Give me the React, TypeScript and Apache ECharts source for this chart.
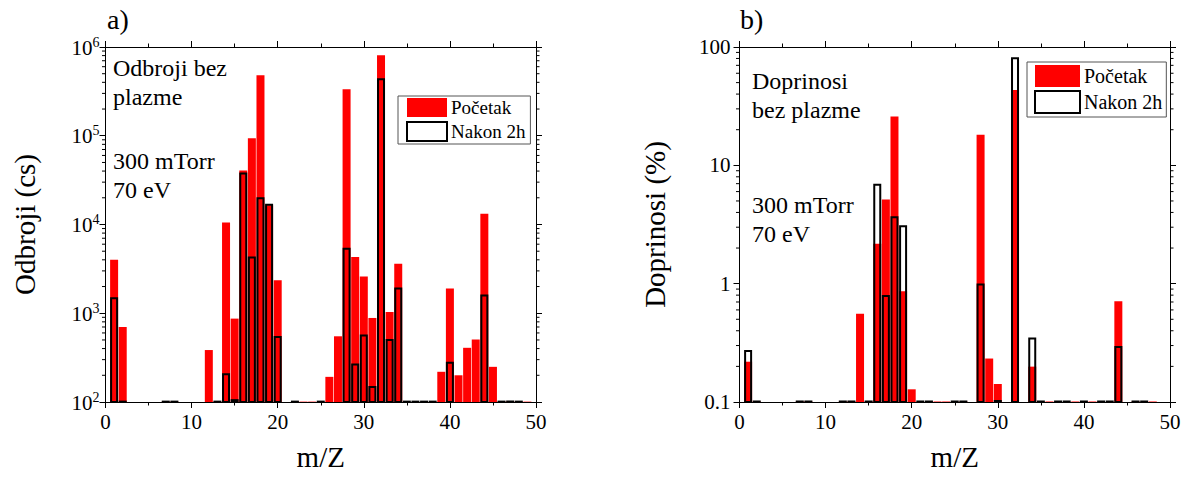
import React, { useEffect, useRef } from "react";
import * as echarts from "echarts";

// ---- data: [m/Z, value] ----
const countsPocetak: [number, number][] = [
  [1, 4000], [2, 700], [7, 101], [8, 101], [12, 385], [13, 101], [14, 10500], [15, 870],
  [16, 40500], [17, 94000], [18, 480000], [19, 16500], [20, 2350], [22, 101], [23, 101],
  [24, 101], [26, 192], [27, 550], [28, 335000], [29, 4300], [30, 2600], [31, 885],
  [32, 806000], [33, 1030], [34, 3620], [39, 219], [40, 1900], [41, 200], [42, 408],
  [43, 506], [44, 13200], [45, 249], [46, 101], [47, 101], [48, 101], [49, 101],
];
const countsNakon: [number, number][] = [
  [1, 1480], [2, 101], [7, 101], [8, 101], [13, 101], [14, 205], [15, 105], [16, 37500],
  [17, 4240], [18, 19800], [19, 16700], [20, 540], [22, 101], [25, 101], [28, 5340],
  [29, 265], [30, 560], [31, 148], [32, 434000], [33, 498], [34, 1900], [35, 101],
  [36, 101], [37, 101], [38, 101], [40, 276], [44, 1590], [46, 101], [47, 101], [48, 101],
];
const shareFirst: [number, number][] = [
  [1, 0.219], [2, 0.101], [7, 0.101], [8, 0.101], [12, 0.101], [13, 0.101], [14, 0.558],
  [15, 0.101], [16, 2.17], [17, 5.14], [18, 25.9], [19, 0.861], [20, 0.128], [22, 0.101],
  [23, 0.101], [24, 0.101], [26, 0.101], [28, 18.1], [29, 0.233], [30, 0.142], [32, 43.4],
  [34, 0.199], [36, 0.101], [39, 0.101], [41, 0.101], [44, 0.71], [46, 0.101], [48, 0.101],
];
const shareAfter: [number, number][] = [
  [1, 0.27], [2, 0.101], [7, 0.101], [8, 0.101], [12, 0.101], [13, 0.101], [15, 0.101],
  [16, 6.87], [17, 0.787], [18, 3.64], [19, 3.06], [21, 0.101], [22, 0.101], [25, 0.101],
  [26, 0.101], [28, 0.986], [30, 0.102], [32, 80.3], [34, 0.344], [35, 0.101], [37, 0.101],
  [38, 0.101], [40, 0.101], [42, 0.101], [43, 0.101], [44, 0.292], [46, 0.101], [47, 0.101],
];
const seriesNames = ["Početak", "Nakon 2h"];
const xTicks = [0, 10, 20, 30, 40, 50];
const leftExponents = [2, 3, 4, 5, 6];
const rightDecades = [0.1, 1, 10, 100];
const minorMultipliers = [2, 3, 4, 5, 6, 7, 8, 9];

const FONT = '"Liberation Serif", "Times New Roman", serif';
const RED = "#ff0000";

function minorValues(decades: number[]) {
  const out: [number, number][] = [];
  for (let i = 0; i < decades.length - 1; i++) {
    for (const k of minorMultipliers) out.push([0, decades[i] * k]);
  }
  return out;
}

export default function App() {
  const ref = useRef<HTMLDivElement>(null);
  useEffect(() => {
    document.body.style.margin = "0";
    const chart = echarts.init(ref.current!, undefined, { renderer: "svg" });
    const G = [
      { left: 105.5, top: 47, width: 430.5, height: 355 },
      { left: 739.5, top: 47, width: 430.5, height: 355 },
    ];
    const axisLine = { show: true, onZero: false, lineStyle: { color: "#000", width: 1 } };
    const xAxisFor = (gi: number, pos: "bottom" | "top") => ({
      type: "value",
      gridIndex: gi,
      position: pos,
      min: xTicks[0],
      max: xTicks[xTicks.length - 1],
      interval: 10,
      axisLine,
      axisTick: { show: true, inside: false, length: 6, lineStyle: { color: "#000" } },
      minorTick: { show: true, splitNumber: 2, length: 3.5, lineStyle: { color: "#000" } },
      axisLabel: {
        show: pos === "bottom",
        color: "#000",
        fontFamily: FONT,
        fontSize: 21,
        margin: 9,
      },
      splitLine: { show: false },
      name: pos === "bottom" ? "m/Z" : "",
      nameLocation: "middle",
      nameGap: 40,
      nameTextStyle: { color: "#000", fontFamily: FONT, fontSize: 29 },
    });
    const leftMin = Math.pow(10, leftExponents[0]);
    const leftMax = Math.pow(10, leftExponents[leftExponents.length - 1]);
    const yAxisFor = (gi: number, pos: "left" | "right") => {
      const isLeftChart = gi === 0;
      return {
        type: "log",
        logBase: 10,
        gridIndex: gi,
        position: pos,
        min: isLeftChart ? leftMin : rightDecades[0],
        max: isLeftChart ? leftMax : rightDecades[rightDecades.length - 1],
        axisLine,
        axisTick: { show: true, inside: false, length: 6, lineStyle: { color: "#000" } },
        splitLine: { show: false },
        axisLabel: {
          show: pos === "left",
          color: "#000",
          fontFamily: FONT,
          fontSize: 21,
          margin: isLeftChart ? 6 : 9,
          formatter: isLeftChart
            ? (v: number) => `{b|10}{s|${Math.round(Math.log10(v))}}`
            : (v: number) => (v >= 1 ? String(Math.round(v)) : String(+v.toPrecision(1))),
          rich: isLeftChart
            ? {
                b: { fontFamily: FONT, fontSize: 21, color: "#000", verticalAlign: "bottom", lineHeight: 22 },
                s: { fontFamily: FONT, fontSize: 14, color: "#000", verticalAlign: "bottom", padding: [0, 0, 9, 0], lineHeight: 14 },
              }
            : undefined,
        },
        name: pos === "left" ? (isLeftChart ? "Odbroji (cs)" : "Doprinosi (%)") : "",
        nameLocation: "middle",
        nameGap: isLeftChart ? 66 : 70,
        nameTextStyle: { color: "#000", fontFamily: FONT, fontSize: 29 },
      };
    };

    const redStyle = { color: RED };
    const blackStyle = { color: "rgba(0,0,0,0)", borderColor: "#000", borderWidth: 2 };

    // Bars drawn through the axes: the bar rises from the bottom of the axis range.
    const logBars = (
      name: string,
      xi: number,
      yi: number,
      data: [number, number][],
      width: number,
      itemStyle: any,
      z: number
    ) => ({
      name,
      type: "custom",
      xAxisIndex: xi,
      yAxisIndex: yi,
      clip: true,
      data,
      encode: { x: 0, y: 1 },
      itemStyle,
      z,
      renderItem: (params: any, api: any) => {
        const p = api.coord([api.value(0), api.value(1)]);
        const cs = params.coordSys;
        const base = cs.y + cs.height;
        return {
          type: "rect",
          shape: { x: p[0] - width / 2, y: p[1], width, height: base - p[1] },
          style: {
            fill: itemStyle.color,
            stroke: itemStyle.borderColor || null,
            lineWidth: itemStyle.borderWidth || 0,
          },
        };
      },
    });

    const minorTicks = (xi: number, yi: number, data: [number, number][]) => ({
      name: "minor",
      type: "custom",
      xAxisIndex: xi,
      yAxisIndex: yi,
      clip: false,
      silent: true,
      data,
      encode: { x: 0, y: 1 },
      renderItem: (params: any, api: any) => {
        const p = api.coord([0, api.value(1)]);
        const cs = params.coordSys;
        const st = { stroke: "#000", lineWidth: 1 };
        return {
          type: "group",
          children: [
            { type: "line", shape: { x1: cs.x - 3.5, y1: p[1], x2: cs.x, y2: p[1] }, style: st },
            { type: "line", shape: { x1: cs.x + cs.width, y1: p[1], x2: cs.x + cs.width + 3.5, y2: p[1] }, style: st },
          ],
        };
      },
    });

    const leftDecades = leftExponents.map((e) => Math.pow(10, e));
    const textStyle = (x: number, y: number, text: string, size: number, lh?: number) => ({
      type: "text",
      x,
      y,
      style: {
        text,
        fill: "#000",
        font: `${size}px ${FONT}`,
        fontSize: size,
        fontFamily: FONT,
        lineHeight: lh ?? size,
        verticalAlign: "top",
        align: "left",
      },
    });

    const legendBase = {
      data: seriesNames,
      orient: "vertical",
      icon: "rect",
      backgroundColor: "#fff",
      borderColor: "#555",
      borderWidth: 1,
      borderRadius: 0,
      selectedMode: false,
    };

    chart.setOption({
      animation: false,
      textStyle: { fontFamily: FONT },
      grid: G.map((g) => ({ ...g, containLabel: false, outerBoundsMode: "none" })),
      xAxis: [xAxisFor(0, "bottom"), xAxisFor(0, "top"), xAxisFor(1, "bottom"), xAxisFor(1, "top")],
      yAxis: [yAxisFor(0, "left"), yAxisFor(0, "right"), yAxisFor(1, "left"), yAxisFor(1, "right")],
      legend: [
        {
          ...legendBase,
          left: 398,
          top: 96,
          itemWidth: 40,
          itemHeight: 19,
          itemGap: 4,
          padding: [2, 5, 2, 8],
          textStyle: { color: "#000", fontFamily: FONT, fontSize: 19, padding: [0, 0, 0, -1] },
        },
        {
          ...legendBase,
          left: 1027,
          top: 62,
          itemWidth: 45,
          itemHeight: 22,
          itemGap: 3,
          padding: [3, 4, 3, 7],
          textStyle: { color: "#000", fontFamily: FONT, fontSize: 20, padding: [0, 0, 0, -1] },
        },
      ],
      series: [
        logBars(seriesNames[0], 0, 0, countsPocetak, 8, redStyle, 2),
        logBars(seriesNames[1], 0, 0, countsNakon, 6, blackStyle, 3),
        logBars(seriesNames[0], 2, 2, shareFirst, 8, redStyle, 2),
        logBars(seriesNames[1], 2, 2, shareAfter, 6, blackStyle, 3),
        minorTicks(0, 0, minorValues(leftDecades)),
        minorTicks(2, 2, minorValues(rightDecades)),
      ],
      graphic: [
        textStyle(107, 5, "a)", 28),
        textStyle(740, 5, "b)", 28),
        textStyle(113, 53, "Odbroji bez\nplazme", 24, 29),
        textStyle(113, 146, "300 mTorr\n70 eV", 24, 29),
        textStyle(752, 66, "Doprinosi\nbez plazme", 24, 29),
        textStyle(752, 190, "300 mTorr\n70 eV", 24, 29),
      ],
    });
    return () => chart.dispose();
  }, []);
  return <div ref={ref} style={{ width: 1182, height: 477 }} />;
}
